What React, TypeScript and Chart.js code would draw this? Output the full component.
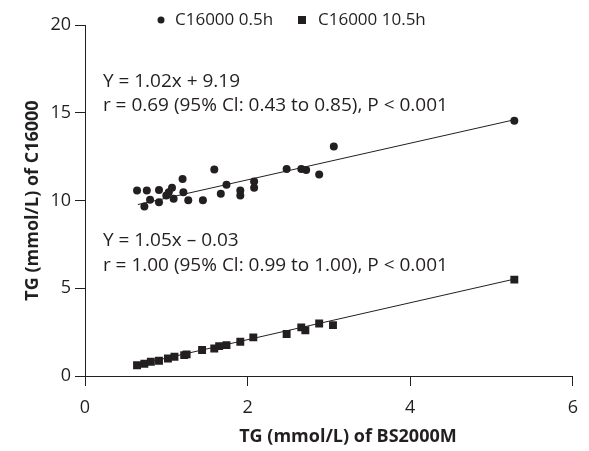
import React, { useEffect, useRef } from "react";
import { Chart, registerables } from "chart.js";

Chart.register(...registerables);

// Upper series: C16000 0.5h (circles)
const earlyX = [0.64, 0.76, 0.73, 0.80, 0.91, 0.91, 1.00, 1.03, 1.07, 1.09, 1.20, 1.21, 1.27, 1.45, 1.59, 1.67, 1.74, 1.91, 1.91, 2.08, 2.08, 2.48, 2.66, 2.72, 2.88, 3.06, 5.28];
const earlyY = [10.57, 10.57, 9.66, 10.04, 10.6, 9.9, 10.28, 10.47, 10.72, 10.1, 11.23, 10.47, 10.02, 10.02, 11.76, 10.38, 10.9, 10.57, 10.28, 11.08, 10.72, 11.8, 11.8, 11.74, 11.48, 13.07, 14.55];

// Lower series: C16000 10.5h (squares)
const lateX = [0.64, 0.73, 0.81, 0.91, 1.02, 1.10, 1.22, 1.25, 1.44, 1.59, 1.65, 1.74, 1.91, 2.07, 2.48, 2.66, 2.71, 2.88, 3.05, 5.28];
const lateY = [0.61, 0.70, 0.81, 0.87, 1.0, 1.10, 1.19, 1.23, 1.48, 1.57, 1.70, 1.76, 1.95, 2.20, 2.39, 2.77, 2.61, 2.99, 2.90, 5.49];

// Regression line end points
const fitX = [0.65, 5.28];
const fitEarlyY = [9.77, 14.6];
const fitLateY = [0.65, 5.52];

const seriesLabels = ["C16000 0.5h", "C16000 10.5h"];
const xTitle = "TG (mmol/L) of BS2000M";
const yTitle = "TG (mmol/L) of C16000";
const annotationTexts = [
  "Y = 1.02x + 9.19",
  "r = 0.69 (95% Cl: 0.43 to 0.85), P < 0.001",
  "Y = 1.05x \u2013 0.03",
  "r = 1.00 (95% Cl: 0.99 to 1.00), P < 0.001",
];
const annotationX = [0.22, 0.22, 0.22, 0.22];
const annotationY = [16.8, 15.4, 7.73, 6.31];

const xTicks = [0, 2, 4, 6];
const yTicks = [0, 5, 10, 15, 20];

const FONT = "'Open Sans', 'Noto Sans', sans-serif";
const INK = "#231f20";

const toPts = (xs: number[], ys: number[]) => xs.map((x, i) => ({ x, y: ys[i] }));

export default function App() {
  const ref = useRef<HTMLCanvasElement | null>(null);
  useEffect(() => {
    if (!ref.current) return;
    const overlay = {
      id: "overlay",
      afterDraw(chart: any) {
        const ctx = chart.ctx;
        const xs = chart.scales.x;
        const ys = chart.scales.y;
        ctx.save();
        ctx.fillStyle = INK;
        ctx.font = `19px ${FONT}`;
        ctx.textBaseline = "middle";
        ctx.textAlign = "left";
        annotationTexts.forEach((t, i) => {
          ctx.fillText(t, xs.getPixelForValue(annotationX[i]), ys.getPixelForValue(annotationY[i]));
        });
        // x axis title (offset to the right as in the reference)
        ctx.font = `bold 18px ${FONT}`;
        ctx.textAlign = "center";
        ctx.fillText(xTitle, (chart.chartArea.left + chart.chartArea.right) / 2 + 19, 437);
        // legend
        ctx.font = `17px ${FONT}`;
        ctx.textAlign = "left";
        const cy = 20;
        ctx.beginPath();
        ctx.arc(161, cy, 3.5, 0, Math.PI * 2);
        ctx.fill();
        ctx.fillText(seriesLabels[0], 175, cy);
        ctx.fillRect(298, cy - 4, 8, 8);
        ctx.fillText(seriesLabels[1], 318, cy);
        ctx.restore();
      },
    };
    const chart = new Chart(ref.current, {
      type: "scatter",
      data: {
        datasets: [
          {
            label: seriesLabels[0],
            data: toPts(earlyX, earlyY),
            pointStyle: "circle",
            pointRadius: 4,
            backgroundColor: INK,
            borderColor: INK,
            borderWidth: 0,
          },
          {
            label: seriesLabels[1],
            data: toPts(lateX, lateY),
            pointStyle: "rect",
            pointRadius: 5.6,
            backgroundColor: INK,
            borderColor: INK,
            borderWidth: 0,
          },
          {
            type: "line",
            label: "fit1",
            data: toPts(fitX, fitEarlyY),
            borderColor: INK,
            borderWidth: 1,
            pointRadius: 0,
            showLine: true,
          } as any,
          {
            type: "line",
            label: "fit2",
            data: toPts(fitX, fitLateY),
            borderColor: INK,
            borderWidth: 1,
            pointRadius: 0,
            showLine: true,
          } as any,
        ],
      },
      options: {
        animation: false,
        responsive: false,
        devicePixelRatio: 1,
        layout: { padding: { left: 0, top: 25, right: 12, bottom: 0 } },
        plugins: { legend: { display: false }, tooltip: { enabled: false } },
        scales: {
          x: {
            type: "linear",
            min: 0,
            max: 6,
            afterBuildTicks: (s: any) => {
              s.ticks = xTicks.map((v) => ({ value: v }));
            },
            afterFit: (s: any) => {
              s.height = 75;
            },
            ticks: { color: INK, font: { family: FONT, size: 18 }, padding: 11 },
            grid: { drawOnChartArea: false, drawTicks: true, tickLength: 10, color: INK },
            border: { color: INK, width: 1 },
            title: { display: false },
          },
          y: {
            type: "linear",
            min: 0,
            max: 20,
            afterBuildTicks: (s: any) => {
              s.ticks = yTicks.map((v) => ({ value: v }));
            },
            afterFit: (s: any) => {
              s.width = 85;
            },
            ticks: { color: INK, font: { family: FONT, size: 18 }, padding: 4 },
            grid: { drawOnChartArea: false, drawTicks: true, tickLength: 10, color: INK },
            border: { color: INK, width: 1 },
            title: {
              display: true,
              text: yTitle,
              color: INK,
              font: { family: FONT, size: 18, weight: "bold" },
              padding: { top: 22, bottom: 0 },
            },
          },
        },
      } as any,
      plugins: [overlay],
    });
    return () => chart.destroy();
  }, []);
  return (
    <div style={{ position: "fixed", left: 0, top: 0, width: 589, height: 451, background: "#fff" }}>
      <canvas ref={ref} width={589} height={451} style={{ width: 589, height: 451 }} />
    </div>
  );
}
